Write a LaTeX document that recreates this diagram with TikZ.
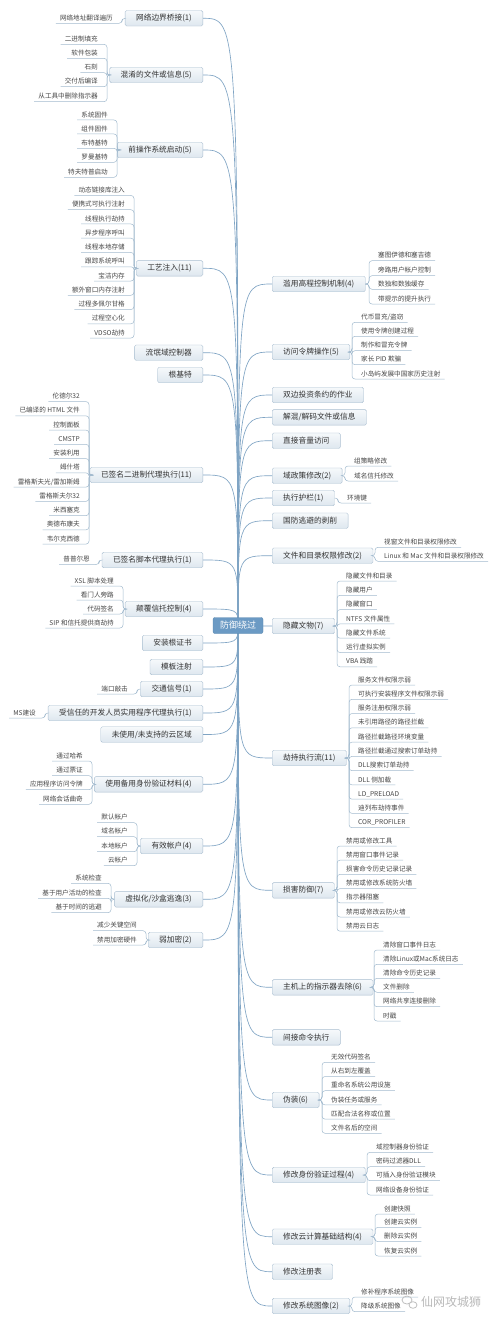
\documentclass[tikz,border=0pt]{standalone}
\usepackage{fontspec}
\setmainfont{Noto Sans CJK SC}
\definecolor{rootblue}{HTML}{6B9AC4}
\definecolor{rootedge}{HTML}{5A88B0}
\definecolor{boxline}{HTML}{A9BED0}
\definecolor{boxtop}{HTML}{F6F9FB}
\definecolor{boxbot}{HTML}{DEE7EF}
\definecolor{linkblue}{HTML}{7FA4C4}
\definecolor{twigblue}{HTML}{A3BBCF}
\definecolor{textgray}{HTML}{333333}
\definecolor{itemgray}{HTML}{474747}
\begin{document}
\begin{tikzpicture}[x=1pt,y=-1pt,
    topic/.style={draw=boxline, rounded corners=1.5pt, top color=boxtop, bottom color=boxbot,
      text=textgray, font=\fontsize{7.7}{9}\selectfont, inner xsep=11pt, inner ysep=0pt,
      minimum height=15.5pt},
    left topic/.style={topic, anchor=east},
    right topic/.style={topic, anchor=west},
    item/.style={font=\fontsize{6.6}{8}\selectfont, text=itemgray, inner xsep=4pt, inner ysep=1.5pt,
      text height=5.4pt, text depth=1.2pt},
    left item/.style={item, anchor=east},
    right item/.style={item, anchor=west},
    branch/.style={draw=linkblue, line width=0.65pt},
    twig/.style={draw=twigblue, line width=0.5pt, rounded corners=3pt}]

  % Frame
  \fill[white] (0,0) rectangle (500,1324);
  \useasboundingbox (0,0) rectangle (500,1324);

  % ---------- Left side ----------
  \node[left topic] (l1) at (203,18.3) {网络边界桥接(1)};
  \node[left item] (l1a) at (117,18.3) {网络地址翻译遍历};
  \draw[twig] (l1.west) -| ([xshift=5pt]l1a.south east) -- (l1a.south west);

  \node[left topic] (l2) at (203,75) {混淆的文件或信息(5)};
  \node[left item] (l2a) at (102,39.3) {二进制填充};
  \node[left item] (l2b) at (102,53.3) {软件包装};
  \node[left item] (l2c) at (102,67.7) {石刻};
  \node[left item] (l2d) at (102,81.7) {交付后编译};
  \node[left item] (l2e) at (102,96.7) {从工具中删除指示器};
  \draw[twig] (l2.west) -| ([xshift=5pt]l2a.south east) -- (l2a.south west);
  \draw[twig] (l2.west) -| ([xshift=5pt]l2b.south east) -- (l2b.south west);
  \draw[twig] (l2.west) -| ([xshift=5pt]l2c.south east) -- (l2c.south west);
  \draw[twig] (l2.west) -| ([xshift=5pt]l2d.south east) -- (l2d.south west);
  \draw[twig] (l2.west) -| ([xshift=5pt]l2e.south east) -- (l2e.south west);

  \node[left topic] (l3) at (203,150) {前操作系统启动(5)};
  \node[left item] (l3a) at (112,115) {系统固件};
  \node[left item] (l3b) at (112,129) {组件固件};
  \node[left item] (l3c) at (112,143.3) {布特基特};
  \node[left item] (l3d) at (112,157.3) {罗曼基特};
  \node[left item] (l3e) at (112,172.3) {特夫特普启动};
  \draw[twig] (l3.west) -| ([xshift=5pt]l3a.south east) -- (l3a.south west);
  \draw[twig] (l3.west) -| ([xshift=5pt]l3b.south east) -- (l3b.south west);
  \draw[twig] (l3.west) -| ([xshift=5pt]l3c.south east) -- (l3c.south west);
  \draw[twig] (l3.west) -| ([xshift=5pt]l3d.south east) -- (l3d.south west);
  \draw[twig] (l3.west) -| ([xshift=5pt]l3e.south east) -- (l3e.south west);

  \node[left topic] (l4) at (203,268.3) {工艺注入(11)};
  \node[left item] (l4a) at (129,190.5) {动态链接库注入};
  \node[left item] (l4b) at (129,204.75) {便携式可执行注射};
  \node[left item] (l4c) at (129,219) {线程执行劫持};
  \node[left item] (l4d) at (129,233.25) {异步程序呼叫};
  \node[left item] (l4e) at (129,247.5) {线程本地存储};
  \node[left item] (l4f) at (129,261.75) {跟踪系统呼叫};
  \node[left item] (l4g) at (129,276) {宝洁内存};
  \node[left item] (l4h) at (129,290.25) {额外窗口内存注射};
  \node[left item] (l4i) at (129,304.5) {过程多佩尔甘格};
  \node[left item] (l4j) at (129,318.75) {过程空心化};
  \node[left item] (l4k) at (129,333) {VDSO劫持};
  \draw[twig] (l4.west) -| ([xshift=5pt]l4a.south east) -- (l4a.south west);
  \draw[twig] (l4.west) -| ([xshift=5pt]l4b.south east) -- (l4b.south west);
  \draw[twig] (l4.west) -| ([xshift=5pt]l4c.south east) -- (l4c.south west);
  \draw[twig] (l4.west) -| ([xshift=5pt]l4d.south east) -- (l4d.south west);
  \draw[twig] (l4.west) -| ([xshift=5pt]l4e.south east) -- (l4e.south west);
  \draw[twig] (l4.west) -| ([xshift=5pt]l4f.south east) -- (l4f.south west);
  \draw[twig] (l4.west) -| ([xshift=5pt]l4g.south east) -- (l4g.south west);
  \draw[twig] (l4.west) -| ([xshift=5pt]l4h.south east) -- (l4h.south west);
  \draw[twig] (l4.west) -| ([xshift=5pt]l4i.south east) -- (l4i.south west);
  \draw[twig] (l4.west) -| ([xshift=5pt]l4j.south east) -- (l4j.south west);
  \draw[twig] (l4.west) -| ([xshift=5pt]l4k.south east) -- (l4k.south west);

  \node[left topic] (l5) at (203,352.7) {流氓域控制器};
  \node[left topic] (l6) at (203,375) {根基特};

  \node[left topic] (l7) at (203,475) {已签名二进制代理执行(11)};
  \node[left item] (l7a) at (84,396.6) {伦德尔32};
  \node[left item] (l7b) at (84,410.85) {已编译的 HTML 文件};
  \node[left item] (l7c) at (84,425.1) {控制面板};
  \node[left item] (l7d) at (84,439.35) {CMSTP};
  \node[left item] (l7e) at (84,453.6) {安装利用};
  \node[left item] (l7f) at (84,467.85) {姆什塔};
  \node[left item] (l7g) at (84,482.1) {雷格斯夫光/雷加斯姆};
  \node[left item] (l7h) at (84,496.35) {雷格斯夫尔32};
  \node[left item] (l7i) at (84,510.6) {米西塞克};
  \node[left item] (l7j) at (84,524.85) {奥德布康夫};
  \node[left item] (l7k) at (84,539.1) {韦尔克西德};
  \draw[twig] (l7.west) -| ([xshift=5pt]l7a.south east) -- (l7a.south west);
  \draw[twig] (l7.west) -| ([xshift=5pt]l7b.south east) -- (l7b.south west);
  \draw[twig] (l7.west) -| ([xshift=5pt]l7c.south east) -- (l7c.south west);
  \draw[twig] (l7.west) -| ([xshift=5pt]l7d.south east) -- (l7d.south west);
  \draw[twig] (l7.west) -| ([xshift=5pt]l7e.south east) -- (l7e.south west);
  \draw[twig] (l7.west) -| ([xshift=5pt]l7f.south east) -- (l7f.south west);
  \draw[twig] (l7.west) -| ([xshift=5pt]l7g.south east) -- (l7g.south west);
  \draw[twig] (l7.west) -| ([xshift=5pt]l7h.south east) -- (l7h.south west);
  \draw[twig] (l7.west) -| ([xshift=5pt]l7i.south east) -- (l7i.south west);
  \draw[twig] (l7.west) -| ([xshift=5pt]l7j.south east) -- (l7j.south west);
  \draw[twig] (l7.west) -| ([xshift=5pt]l7k.south east) -- (l7k.south west);

  \node[left topic] (l8) at (203,560) {已签名脚本代理执行(1)};
  \node[left item] (l8a) at (94,559.5) {普普尔恩};
  \draw[twig] (l8.west) -| ([xshift=5pt]l8a.south east) -- (l8a.south west);

  \node[left topic] (l9) at (203,609) {颠覆信托控制(4)};
  \node[left item] (l9a) at (118,581) {XSL 脚本处理};
  \node[left item] (l9b) at (118,595) {看门人旁路};
  \node[left item] (l9c) at (118,609) {代码签名};
  \node[left item] (l9d) at (118,623) {SIP 和信托提供商劫持};
  \draw[twig] (l9.west) -| ([xshift=5pt]l9a.south east) -- (l9a.south west);
  \draw[twig] (l9.west) -| ([xshift=5pt]l9b.south east) -- (l9b.south west);
  \draw[twig] (l9.west) -| ([xshift=5pt]l9c.south east) -- (l9c.south west);
  \draw[twig] (l9.west) -| ([xshift=5pt]l9d.south east) -- (l9d.south west);

  \node[left topic] (l10) at (203,643) {安装根证书};
  \node[left topic] (l11) at (203,667) {模板注射};

  \node[left topic] (l12) at (203,689) {交通信号(1)};
  \node[left item] (l12a) at (132,689) {端口敲击};
  \draw[twig] (l12.west) -| ([xshift=5pt]l12a.south east) -- (l12a.south west);

  \node[left topic] (l13) at (203,713) {受信任的开发人员实用程序代理执行(1)};
  \node[left item] (l13a) at (40,713) {MS建设};
  \draw[twig] (l13.west) -| ([xshift=5pt]l13a.south east) -- (l13a.south west);

  \node[left topic] (l14) at (203,734.5) {未使用/未支持的云区域};

  \node[left topic] (l15) at (203,784.3) {使用备用身份验证材料(4)};
  \node[left item] (l15a) at (87,756) {通过哈希};
  \node[left item] (l15b) at (87,770.7) {通过票证};
  \node[left item] (l15c) at (87,784.7) {应用程序访问令牌};
  \node[left item] (l15d) at (87,799.3) {网络会话曲奇};
  \draw[twig] (l15.west) -| ([xshift=5pt]l15a.south east) -- (l15a.south west);
  \draw[twig] (l15.west) -| ([xshift=5pt]l15b.south east) -- (l15b.south west);
  \draw[twig] (l15.west) -| ([xshift=5pt]l15c.south east) -- (l15c.south west);
  \draw[twig] (l15.west) -| ([xshift=5pt]l15d.south east) -- (l15d.south west);

  \node[left topic] (l16) at (203,846) {有效帐户(4)};
  \node[left item] (l16a) at (132,817.7) {默认帐户};
  \node[left item] (l16b) at (132,831.7) {域名帐户};
  \node[left item] (l16c) at (132,846.7) {本地帐户};
  \node[left item] (l16d) at (132,860.7) {云帐户};
  \draw[twig] (l16.west) -| ([xshift=5pt]l16a.south east) -- (l16a.south west);
  \draw[twig] (l16.west) -| ([xshift=5pt]l16b.south east) -- (l16b.south west);
  \draw[twig] (l16.west) -| ([xshift=5pt]l16c.south east) -- (l16c.south west);
  \draw[twig] (l16.west) -| ([xshift=5pt]l16d.south east) -- (l16d.south west);

  \node[left topic] (l17) at (203,899.3) {虚拟化/沙盒逃逸(3)};
  \node[left item] (l17a) at (106,878.3) {系统检查};
  \node[left item] (l17b) at (106,893.3) {基于用户活动的检查};
  \node[left item] (l17c) at (106,907.7) {基于时间的逃避};
  \draw[twig] (l17.west) -| ([xshift=5pt]l17a.south east) -- (l17a.south west);
  \draw[twig] (l17.west) -| ([xshift=5pt]l17b.south east) -- (l17b.south west);
  \draw[twig] (l17.west) -| ([xshift=5pt]l17c.south east) -- (l17c.south west);

  \node[left topic] (l18) at (203,940) {弱加密(2)};
  \node[left item] (l18a) at (141,925.7) {减少关键空间};
  \node[left item] (l18b) at (141,940) {禁用加密硬件};
  \draw[twig] (l18.west) -| ([xshift=5pt]l18a.south east) -- (l18a.south west);
  \draw[twig] (l18.west) -| ([xshift=5pt]l18b.south east) -- (l18b.south west);

  % ---------- Right side ----------
  \node[right topic] (r1) at (272,284) {滥用高程控制机制(4)};
  \node[right item] (r1a) at (374,255.7) {塞图伊德和塞吉德};
  \node[right item] (r1b) at (374,270.7) {旁路用户帐户控制};
  \node[right item] (r1c) at (374,284.3) {数独和数独缓存};
  \node[right item] (r1d) at (374,299) {带提示的提升执行};
  \draw[twig] (r1.east) -| ([xshift=-5pt]r1a.south west) -- (r1a.south east);
  \draw[twig] (r1.east) -| ([xshift=-5pt]r1b.south west) -- (r1b.south east);
  \draw[twig] (r1.east) -| ([xshift=-5pt]r1c.south west) -- (r1c.south east);
  \draw[twig] (r1.east) -| ([xshift=-5pt]r1d.south west) -- (r1d.south east);

  \node[right topic] (r2) at (272,352) {访问令牌操作(5)};
  \node[right item] (r2a) at (357,317.3) {代币冒充/盗窃};
  \node[right item] (r2b) at (357,331.3) {使用令牌创建过程};
  \node[right item] (r2c) at (357,345.7) {制作和冒充令牌};
  \node[right item] (r2d) at (357,359.7) {家长 PID 欺骗};
  \node[right item] (r2e) at (357,374) {小岛屿发展中国家历史注射};
  \draw[twig] (r2.east) -| ([xshift=-5pt]r2a.south west) -- (r2a.south east);
  \draw[twig] (r2.east) -| ([xshift=-5pt]r2b.south west) -- (r2b.south east);
  \draw[twig] (r2.east) -| ([xshift=-5pt]r2c.south west) -- (r2c.south east);
  \draw[twig] (r2.east) -| ([xshift=-5pt]r2d.south west) -- (r2d.south east);
  \draw[twig] (r2.east) -| ([xshift=-5pt]r2e.south west) -- (r2e.south east);

  \node[right topic] (r3) at (272,395) {双边投资条约的作业};
  \node[right topic] (r4) at (272,417.3) {解混/解码文件或信息};
  \node[right topic] (r5) at (272,440.7) {直接音量访问};

  \node[right topic] (r6) at (272,475.7) {域政策修改(2)};
  \node[right item] (r6a) at (350,461) {组策略修改};
  \node[right item] (r6b) at (350,476) {域名信托修改};
  \draw[twig] (r6.east) -| ([xshift=-5pt]r6a.south west) -- (r6a.south east);
  \draw[twig] (r6.east) -| ([xshift=-5pt]r6b.south west) -- (r6b.south east);

  \node[right topic] (r7) at (272,498) {执行护栏(1)};
  \node[right item] (r7a) at (343,498) {环境键};
  \draw[twig] (r7.east) -| ([xshift=-5pt]r7a.south west) -- (r7a.south east);

  \node[right topic] (r8) at (272,520.7) {国防逃避的剥削};

  \node[right topic] (r9) at (272,555.7) {文件和目录权限修改(2)};
  \node[right item] (r9a) at (380,542.3) {视窗文件和目录权限修改};
  \node[right item] (r9b) at (380,556.3) {Linux 和 Mac 文件和目录权限修改};
  \draw[twig] (r9.east) -| ([xshift=-5pt]r9a.south west) -- (r9a.south east);
  \draw[twig] (r9.east) -| ([xshift=-5pt]r9b.south west) -- (r9b.south east);

  \node[right topic] (r10) at (272,626) {隐藏文物(7)};
  \node[right item] (r10a) at (342,576) {隐藏文件和目录};
  \node[right item] (r10b) at (342,590.3) {隐藏用户};
  \node[right item] (r10c) at (342,604.6) {隐藏窗口};
  \node[right item] (r10d) at (342,618.9) {NTFS 文件属性};
  \node[right item] (r10e) at (342,633.2) {隐藏文件系统};
  \node[right item] (r10f) at (342,647.5) {运行虚拟实例};
  \node[right item] (r10g) at (342,661.8) {VBA 践踏};
  \draw[twig] (r10.east) -| ([xshift=-5pt]r10a.south west) -- (r10a.south east);
  \draw[twig] (r10.east) -| ([xshift=-5pt]r10b.south west) -- (r10b.south east);
  \draw[twig] (r10.east) -| ([xshift=-5pt]r10c.south west) -- (r10c.south east);
  \draw[twig] (r10.east) -| ([xshift=-5pt]r10d.south west) -- (r10d.south east);
  \draw[twig] (r10.east) -| ([xshift=-5pt]r10e.south west) -- (r10e.south east);
  \draw[twig] (r10.east) -| ([xshift=-5pt]r10f.south west) -- (r10f.south east);
  \draw[twig] (r10.east) -| ([xshift=-5pt]r10g.south west) -- (r10g.south east);

  \node[right topic] (r11) at (272,758) {劫持执行流(11)};
  \node[right item] (r11a) at (354,680) {服务文件权限示弱};
  \node[right item] (r11b) at (354,694.3) {可执行安装程序文件权限示弱};
  \node[right item] (r11c) at (354,708.5) {服务注册权限示弱};
  \node[right item] (r11d) at (354,722.8) {未引用路径的路径拦截};
  \node[right item] (r11e) at (354,737.1) {路径拦截路径环境变量};
  \node[right item] (r11f) at (354,751.4) {路径拦截通过搜索订单劫持};
  \node[right item] (r11g) at (354,765.6) {DLL搜索订单劫持};
  \node[right item] (r11h) at (354,779.9) {DLL 侧加载};
  \node[right item] (r11i) at (354,794.2) {LD\_PRELOAD};
  \node[right item] (r11j) at (354,808.4) {迪列布劫持事件};
  \node[right item] (r11k) at (354,822.7) {COR\_PROFILER};
  \draw[twig] (r11.east) -| ([xshift=-5pt]r11a.south west) -- (r11a.south east);
  \draw[twig] (r11.east) -| ([xshift=-5pt]r11b.south west) -- (r11b.south east);
  \draw[twig] (r11.east) -| ([xshift=-5pt]r11c.south west) -- (r11c.south east);
  \draw[twig] (r11.east) -| ([xshift=-5pt]r11d.south west) -- (r11d.south east);
  \draw[twig] (r11.east) -| ([xshift=-5pt]r11e.south west) -- (r11e.south east);
  \draw[twig] (r11.east) -| ([xshift=-5pt]r11f.south west) -- (r11f.south east);
  \draw[twig] (r11.east) -| ([xshift=-5pt]r11g.south west) -- (r11g.south east);
  \draw[twig] (r11.east) -| ([xshift=-5pt]r11h.south west) -- (r11h.south east);
  \draw[twig] (r11.east) -| ([xshift=-5pt]r11i.south west) -- (r11i.south east);
  \draw[twig] (r11.east) -| ([xshift=-5pt]r11j.south west) -- (r11j.south east);
  \draw[twig] (r11.east) -| ([xshift=-5pt]r11k.south west) -- (r11k.south east);

  \node[right topic] (r12) at (272,890.3) {损害防御(7)};
  \node[right item] (r12a) at (342,841) {禁用或修改工具};
  \node[right item] (r12b) at (342,855.2) {禁用窗口事件记录};
  \node[right item] (r12c) at (342,869.4) {损害命令历史记录记录};
  \node[right item] (r12d) at (342,883.6) {禁用或修改系统防火墙};
  \node[right item] (r12e) at (342,897.8) {指示器阻塞};
  \node[right item] (r12f) at (342,912) {禁用或修改云防火墙};
  \node[right item] (r12g) at (342,926.2) {禁用云日志};
  \draw[twig] (r12.east) -| ([xshift=-5pt]r12a.south west) -- (r12a.south east);
  \draw[twig] (r12.east) -| ([xshift=-5pt]r12b.south west) -- (r12b.south east);
  \draw[twig] (r12.east) -| ([xshift=-5pt]r12c.south west) -- (r12c.south east);
  \draw[twig] (r12.east) -| ([xshift=-5pt]r12d.south west) -- (r12d.south east);
  \draw[twig] (r12.east) -| ([xshift=-5pt]r12e.south west) -- (r12e.south east);
  \draw[twig] (r12.east) -| ([xshift=-5pt]r12f.south west) -- (r12f.south east);
  \draw[twig] (r12.east) -| ([xshift=-5pt]r12g.south west) -- (r12g.south east);

  \node[right topic] (r13) at (272,987.3) {主机上的指示器去除(6)};
  \node[right item] (r13a) at (379,945) {清除窗口事件日志};
  \node[right item] (r13b) at (379,959.3) {清除Linux或Mac系统日志};
  \node[right item] (r13c) at (379,973.3) {清除命令历史记录};
  \node[right item] (r13d) at (379,987.3) {文件删除};
  \node[right item] (r13e) at (379,1001.7) {网络共享连接删除};
  \node[right item] (r13f) at (379,1016) {时戳};
  \draw[twig] (r13.east) -| ([xshift=-5pt]r13a.south west) -- (r13a.south east);
  \draw[twig] (r13.east) -| ([xshift=-5pt]r13b.south west) -- (r13b.south east);
  \draw[twig] (r13.east) -| ([xshift=-5pt]r13c.south west) -- (r13c.south east);
  \draw[twig] (r13.east) -| ([xshift=-5pt]r13d.south west) -- (r13d.south east);
  \draw[twig] (r13.east) -| ([xshift=-5pt]r13e.south west) -- (r13e.south east);
  \draw[twig] (r13.east) -| ([xshift=-5pt]r13f.south west) -- (r13f.south east);

  \node[right topic] (r14) at (272,1037.3) {间接命令执行};

  \node[right topic] (r15) at (272,1100) {伪装(6)};
  \node[right item] (r15a) at (327,1057.3) {无效代码签名};
  \node[right item] (r15b) at (327,1071.5) {从右到左覆盖};
  \node[right item] (r15c) at (327,1085.7) {重命名系统公用设施};
  \node[right item] (r15d) at (327,1099.9) {伪装任务或服务};
  \node[right item] (r15e) at (327,1114.1) {匹配合法名称或位置};
  \node[right item] (r15f) at (327,1128.3) {文件名后的空间};
  \draw[twig] (r15.east) -| ([xshift=-5pt]r15a.south west) -- (r15a.south east);
  \draw[twig] (r15.east) -| ([xshift=-5pt]r15b.south west) -- (r15b.south east);
  \draw[twig] (r15.east) -| ([xshift=-5pt]r15c.south west) -- (r15c.south east);
  \draw[twig] (r15.east) -| ([xshift=-5pt]r15d.south west) -- (r15d.south east);
  \draw[twig] (r15.east) -| ([xshift=-5pt]r15e.south west) -- (r15e.south east);
  \draw[twig] (r15.east) -| ([xshift=-5pt]r15f.south west) -- (r15f.south east);

  \node[right topic] (r16) at (272,1175) {修改身份验证过程(4)};
  \node[right item] (r16a) at (372,1147.3) {域控制器身份验证};
  \node[right item] (r16b) at (372,1161.7) {密码过滤器DLL};
  \node[right item] (r16c) at (372,1175.7) {可插入身份验证模块};
  \node[right item] (r16d) at (372,1190) {网络设备身份验证};
  \draw[twig] (r16.east) -| ([xshift=-5pt]r16a.south west) -- (r16a.south east);
  \draw[twig] (r16.east) -| ([xshift=-5pt]r16b.south west) -- (r16b.south east);
  \draw[twig] (r16.east) -| ([xshift=-5pt]r16c.south west) -- (r16c.south east);
  \draw[twig] (r16.east) -| ([xshift=-5pt]r16d.south west) -- (r16d.south east);

  \node[right topic] (r17) at (272,1236.7) {修改云计算基础结构(4)};
  \node[right item] (r17a) at (380,1209) {创建快照};
  \node[right item] (r17b) at (380,1222.3) {创建云实例};
  \node[right item] (r17c) at (380,1236.7) {删除云实例};
  \node[right item] (r17d) at (380,1251) {恢复云实例};
  \draw[twig] (r17.east) -| ([xshift=-5pt]r17a.south west) -- (r17a.south east);
  \draw[twig] (r17.east) -| ([xshift=-5pt]r17b.south west) -- (r17b.south east);
  \draw[twig] (r17.east) -| ([xshift=-5pt]r17c.south west) -- (r17c.south east);
  \draw[twig] (r17.east) -| ([xshift=-5pt]r17d.south west) -- (r17d.south east);

  \node[right topic] (r18) at (272,1271.7) {修改注册表};

  \node[right topic] (r19) at (272,1306) {修改系统图像(2)};
  \node[right item] (r19a) at (357,1292) {修补程序系统图像};
  \node[right item] (r19b) at (357,1306.7) {降级系统图像};
  \draw[twig] (r19.east) -| ([xshift=-5pt]r19a.south west) -- (r19a.south east);
  \draw[twig] (r19.east) -| ([xshift=-5pt]r19b.south west) -- (r19b.south east);

  % ---------- Branches from the centre ----------
  \coordinate (hub) at (238,625.5);
  \draw[branch] (hub) .. controls (hub |- l1.east) .. (l1.east);
  \draw[branch] (hub) .. controls (hub |- l2.east) .. (l2.east);
  \draw[branch] (hub) .. controls (hub |- l3.east) .. (l3.east);
  \draw[branch] (hub) .. controls (hub |- l4.east) .. (l4.east);
  \draw[branch] (hub) .. controls (hub |- l5.east) .. (l5.east);
  \draw[branch] (hub) .. controls (hub |- l6.east) .. (l6.east);
  \draw[branch] (hub) .. controls (hub |- l7.east) .. (l7.east);
  \draw[branch] (hub) .. controls (hub |- l8.east) .. (l8.east);
  \draw[branch] (hub) .. controls (hub |- l9.east) .. (l9.east);
  \draw[branch] (hub) .. controls (hub |- l10.east) .. (l10.east);
  \draw[branch] (hub) .. controls (hub |- l11.east) .. (l11.east);
  \draw[branch] (hub) .. controls (hub |- l12.east) .. (l12.east);
  \draw[branch] (hub) .. controls (hub |- l13.east) .. (l13.east);
  \draw[branch] (hub) .. controls (hub |- l14.east) .. (l14.east);
  \draw[branch] (hub) .. controls (hub |- l15.east) .. (l15.east);
  \draw[branch] (hub) .. controls (hub |- l16.east) .. (l16.east);
  \draw[branch] (hub) .. controls (hub |- l17.east) .. (l17.east);
  \draw[branch] (hub) .. controls (hub |- l18.east) .. (l18.east);
  \draw[branch] (hub) .. controls (hub |- r1.west) .. (r1.west);
  \draw[branch] (hub) .. controls (hub |- r2.west) .. (r2.west);
  \draw[branch] (hub) .. controls (hub |- r3.west) .. (r3.west);
  \draw[branch] (hub) .. controls (hub |- r4.west) .. (r4.west);
  \draw[branch] (hub) .. controls (hub |- r5.west) .. (r5.west);
  \draw[branch] (hub) .. controls (hub |- r6.west) .. (r6.west);
  \draw[branch] (hub) .. controls (hub |- r7.west) .. (r7.west);
  \draw[branch] (hub) .. controls (hub |- r8.west) .. (r8.west);
  \draw[branch] (hub) .. controls (hub |- r9.west) .. (r9.west);
  \draw[branch] (hub) .. controls (hub |- r10.west) .. (r10.west);
  \draw[branch] (hub) .. controls (hub |- r11.west) .. (r11.west);
  \draw[branch] (hub) .. controls (hub |- r12.west) .. (r12.west);
  \draw[branch] (hub) .. controls (hub |- r13.west) .. (r13.west);
  \draw[branch] (hub) .. controls (hub |- r14.west) .. (r14.west);
  \draw[branch] (hub) .. controls (hub |- r15.west) .. (r15.west);
  \draw[branch] (hub) .. controls (hub |- r16.west) .. (r16.west);
  \draw[branch] (hub) .. controls (hub |- r17.west) .. (r17.west);
  \draw[branch] (hub) .. controls (hub |- r18.west) .. (r18.west);
  \draw[branch] (hub) .. controls (hub |- r19.west) .. (r19.west);

  % Centre topic
  \node[draw=rootedge, fill=rootblue, text=white, rounded corners=2pt, font=\fontsize{9}{10}\selectfont,
    minimum width=50pt, minimum height=16pt, inner sep=0pt] (root) at (hub) {防御绕过};

  % Watermark
  \draw[gray!50, line width=0.8pt] (407,1300) ellipse [x radius=5pt, y radius=4pt];
  \draw[gray!50, line width=0.8pt, fill=white] (413,1305) ellipse [x radius=4pt, y radius=3.3pt];
  \node[text=gray!55, font=\fontsize{12}{14}\selectfont, anchor=west, inner sep=0pt] (mark) at (421,1302) {仙网攻城狮};
\end{tikzpicture}
\end{document}
